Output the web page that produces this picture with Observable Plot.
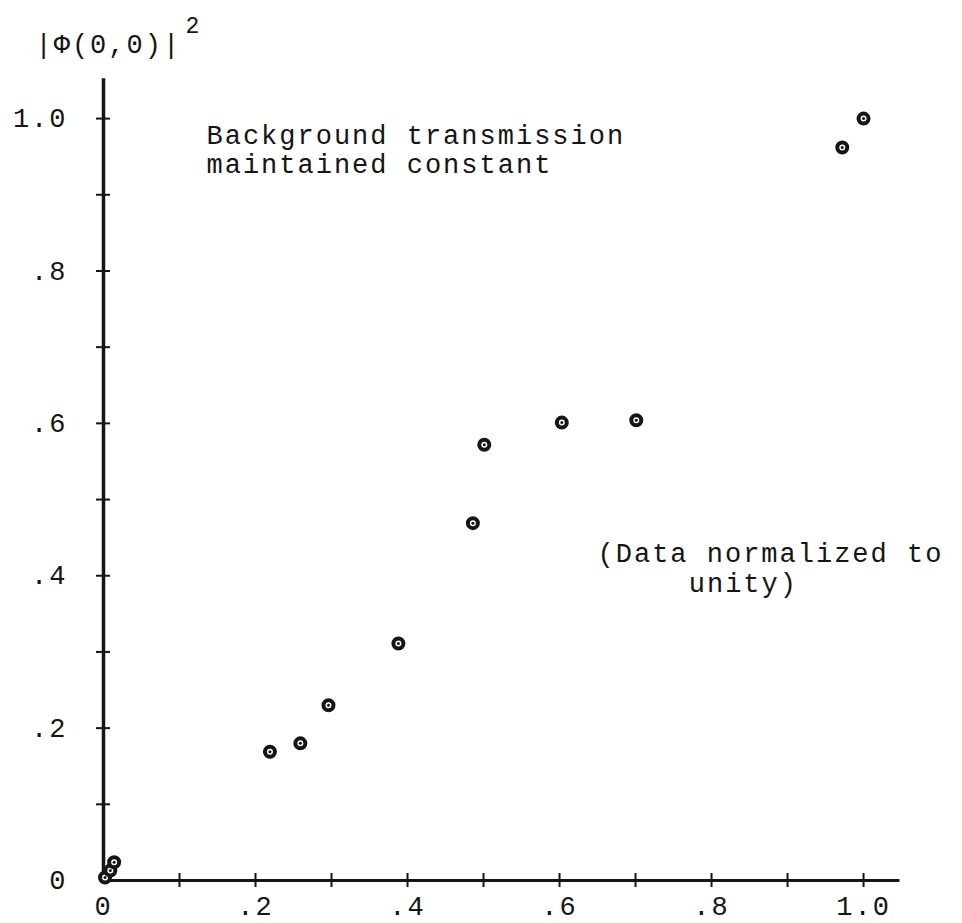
<!DOCTYPE html>
<html>
<head>
<meta charset="utf-8">
<script src="https://cdn.jsdelivr.net/npm/d3@7"></script>
<script src="https://cdn.jsdelivr.net/npm/@observablehq/plot@0.6"></script>
<style>
  html, body { margin: 0; padding: 0; background: #fff; }
</style>
</head>
<body>
<div id="chart"></div>
<script>
// --- data ---
const xValues = [0.002, 0.009, 0.014, 0.219, 0.259, 0.296, 0.388, 0.486, 0.501, 0.603, 0.701, 0.972, 1.0];
const yValues = [0.004, 0.013, 0.024, 0.169, 0.180, 0.230, 0.311, 0.469, 0.572, 0.601, 0.604, 0.962, 1.0];

const xTickValues = [0, 0.1, 0.2, 0.3, 0.4, 0.5, 0.6, 0.7, 0.8, 0.9, 1.0];
const yTickValues = [0, 0.1, 0.2, 0.3, 0.4, 0.5, 0.6, 0.7, 0.8, 0.9, 1.0];
const xLabelValues = [0, 0.2, 0.4, 0.6, 0.8, 1.0];
const xLabels = ["0", ".2", ".4", ".6", ".8", "1.0"];
const yLabelValues = [0, 0.2, 0.4, 0.6, 0.8, 1.0];
const yLabels = ["0", ".2", ".4", ".6", ".8", "1.0"];

const noteTexts = ["Background transmission", "maintained constant", "(Data normalized to", "unity)"];
const noteX = [0.1355, 0.1355, 0.65, 0.77];
const noteY = [0.9672, 0.9291, 0.418, 0.3793];

const xMax = 1.046, yMax = 1.05;

const points = xValues.map((x, i) => ({x, y: yValues[i]}));
const notes = noteTexts.map((t, i) => ({t, x: noteX[i], y: noteY[i]}));

const W = 962, H = 923;
const mL = 103, mR = 64, mT = 80, mB = 43;
const pxX = (W - mL - mR) / xMax;   // pixels per x unit
const pxY = (H - mT - mB) / yMax;   // pixels per y unit
const tickHalf = 7;
const ink = "#151515";
const font = "Liberation Mono, DejaVu Sans Mono, monospace";

const chart = Plot.plot({
  width: W, height: H,
  marginLeft: mL, marginRight: mR, marginTop: mT, marginBottom: mB,
  x: {domain: [0, xMax], label: null},
  y: {domain: [0, yMax], label: null},
  style: {fontFamily: font, fontSize: "27px", letterSpacing: "2px", color: ink, background: "#fff"},
  marks: [
    // axis lines
    Plot.ruleY([0], {x1: 0, x2: xMax, stroke: ink, strokeWidth: 3, strokeLinecap: "square"}),
    Plot.ruleX([0], {y1: 0, y2: yMax, stroke: ink, strokeWidth: 3.5, strokeLinecap: "square"}),
    // crossing tick marks
    Plot.ruleX(xTickValues.slice(1), {x: d => d, y1: -tickHalf / pxY, y2: tickHalf / pxY, stroke: ink, strokeWidth: 2}),
    Plot.ruleY(yTickValues.slice(1), {y: d => d, x1: -tickHalf / pxX, x2: tickHalf / pxX, stroke: ink, strokeWidth: 2}),
    // tick labels
    Plot.axisX({ticks: xLabelValues, tickSize: 0, tickPadding: 15, label: null,
      tickFormat: d => xLabels[xLabelValues.indexOf(d)], fontSize: 27}),
    Plot.axisY({ticks: yLabelValues, tickSize: 0, tickPadding: 36, label: null,
      tickFormat: d => yLabels[yLabelValues.indexOf(d)], fontSize: 27}),
    // y title  |Φ(0,0)|²
    Plot.text(["|Φ(0,0)|"], {frameAnchor: "top-left", dx: -68, dy: -28, textAnchor: "start", lineAnchor: "bottom", fontSize: 27, fill: ink}),
    Plot.text(["2"], {frameAnchor: "top-left", dx: 82, dy: -48, textAnchor: "start", lineAnchor: "bottom", fontSize: 23, fill: ink}),
    // annotations
    Plot.text(notes, {x: "x", y: "y", text: "t", textAnchor: "start", lineAnchor: "bottom", fontSize: 27, fill: ink}),
    // data points: circle with a dot
    Plot.dot(points, {x: "x", y: "y", r: 5, stroke: ink, strokeWidth: 4, fill: "#fff"}),
    Plot.dot(points, {x: "x", y: "y", r: 1.5, fill: ink, stroke: "none"})
  ]
});
document.getElementById("chart").appendChild(chart);
</script>
</body>
</html>
